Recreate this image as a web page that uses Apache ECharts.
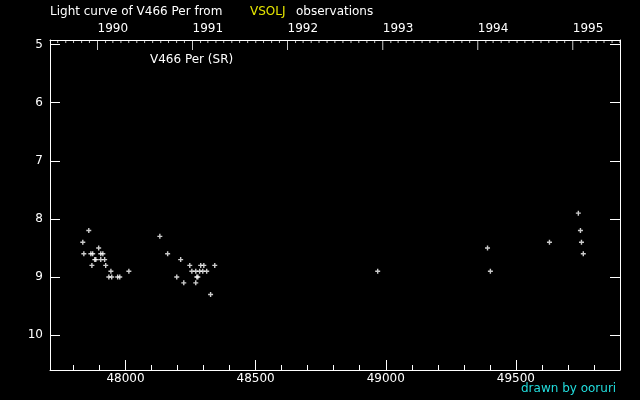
<!DOCTYPE html>
<html>
<head>
<meta charset="utf-8">
<script src="https://cdn.jsdelivr.net/npm/echarts@6/dist/echarts.min.js"></script>
<style>html,body{margin:0;padding:0;background:#000}#c{width:640px;height:400px}</style>
</head>
<body>
<div id="c"></div>
<script>
// Observation data (JD - 2400000, visual magnitude)
var jd = [47859,47836,47897,47840,47867,47874,47905,47913,47882,47886,47905,47920,47871,47924,47944,48013,47936,47947,47970,47978,
          48132,48162,48212,48247,48289,48301,48343,48255,48270,48285,48297,48312,48197,48274,48278,48224,48270,48327,
          48969,49391,49402,49629,49740,49748,49752,49759];
var mag = [8.2,8.4,8.5,8.6,8.6,8.6,8.6,8.6,8.7,8.7,8.7,8.7,8.8,8.8,8.9,8.9,9.0,9.0,9.0,9.0,
           8.3,8.6,8.7,8.8,8.8,8.8,8.8,8.9,8.9,8.9,8.9,8.9,9.0,9.0,9.0,9.1,9.1,9.3,
           8.9,8.5,8.9,8.4,7.9,8.2,8.4,8.6];
// Tick labels
var jdMajorTicks = [48000, 48500, 49000, 49500];
var magTicks = [5, 6, 7, 8, 9, 10];
var yearLabels = ['1990', '1991', '1992', '1993', '1994', '1995'];

var JD_MIN = 47710, JD_MAX = 49900, MAG_MIN = 4.92, MAG_MAX = 10.6;
function toJD(y, m) { return Date.UTC(y, m, 1) / 86400000 + 40587.5; }
var yearJD = yearLabels.map(function (y) { return toJD(+y, 0); });
var monthJD = [];
for (var y = 1989; y <= 1995; y++) for (var m = 0; m < 12; m++) {
  var v = toJD(y, m);
  if (v > JD_MIN && v < JD_MAX && m !== 0) monthJD.push(v);
}
var jdMinor = [];
for (var t = 47800; t < JD_MAX; t += 100) if (jdMajorTicks.indexOf(t) < 0) jdMinor.push(t);

var pts = jd.map(function (d, i) { return [d, mag[i]]; });
var font = 'DejaVu Sans';
function ls() { return { color: '#fff', width: 1 }; }
function rect() { return { left: 50, right: 20, top: 40, bottom: 30 }; }

function xAx(gi, pos, lineShow, tickLen, ticks, label) {
  return { type: 'value', gridIndex: gi, position: pos, min: JD_MIN, max: JD_MAX,
    axisLine: { show: lineShow, onZero: false, lineStyle: ls() },
    axisTick: ticks ? { show: true, inside: true, length: tickLen, lineStyle: ls(), customValues: ticks } : { show: false },
    axisLabel: label || { show: false },
    splitLine: { show: false } };
}
function yAx(gi, pos, label) {
  return { type: 'value', gridIndex: gi, position: pos, inverse: true, min: MAG_MIN, max: MAG_MAX,
    axisLine: { show: true, onZero: false, lineStyle: ls() },
    axisTick: { show: true, inside: true, length: 10, lineStyle: ls(), customValues: magTicks },
    axisLabel: label || { show: false },
    splitLine: { show: false } };
}
function yHidden(gi) {
  return { type: 'value', gridIndex: gi, min: 0, max: 1, show: false, splitLine: { show: false } };
}
// tick marks hanging from the top edge, placed through the x scale
function topTickSeries(values, len) {
  return { type: 'scatter', xAxisIndex: 0, yAxisIndex: 0, clip: false, silent: true, z: 1,
    data: values.map(function (v) { return [v, MAG_MIN]; }),
    symbol: 'rect', symbolSize: [1, len], symbolOffset: [0, len / 2],
    itemStyle: { color: '#fff' } };
}

var chart = echarts.init(document.getElementById('c'), null, { renderer: 'canvas' });
chart.setOption({
  backgroundColor: '#000',
  animation: false,
  grid: [rect(), rect(), rect()],
  xAxis: [
    xAx(0, 'bottom', true, 10, jdMajorTicks,
      { show: true, color: '#fff', fontFamily: font, fontSize: 12, margin: 3, customValues: jdMajorTicks,
        formatter: function (v) { return String(v); } }),
    xAx(1, 'bottom', false, 5, jdMinor),
    xAx(2, 'top', true, 0, null,
      { show: true, color: '#fff', fontFamily: font, fontSize: 12, margin: 5, align: 'left', customValues: yearJD,
        formatter: function (v) { var i = yearJD.indexOf(v); return i >= 0 ? yearLabels[i] : ''; } })
  ],
  yAxis: [
    yAx(0, 'left', { show: true, color: '#fff', fontFamily: font, fontSize: 12, margin: 7, customValues: magTicks }),
    yAx(1, 'right'),
    yHidden(2)
  ],
  series: [
    {
      type: 'scatter', xAxisIndex: 0, yAxisIndex: 0,
      data: pts,
      symbol: 'path://M1.8,0H3.2V1.8H5V3.2H3.2V5H1.8V3.2H0V1.8H1.8Z',
      symbolSize: 5,
      itemStyle: { color: '#fff' },
      silent: true
    },
    topTickSeries(yearJD, 10),
    topTickSeries(monthJD, 3)
  ],
  graphic: [
    { type: 'text', left: 50, top: 6, style: { text: 'Light curve of V466 Per from', fill: '#fff', font: '12px "DejaVu Sans"' } },
    { type: 'text', left: 250, top: 6, style: { text: 'VSOLJ', fill: '#e6e600', font: '12px "DejaVu Sans"' } },
    { type: 'text', left: 296, top: 6, style: { text: 'observations', fill: '#fff', font: '12px "DejaVu Sans"' } },
    { type: 'text', left: 150, top: 54, style: { text: 'V466 Per (SR)', fill: '#fff', font: '12px "DejaVu Sans"' } },
    { type: 'text', left: 521, top: 383, style: { text: 'drawn by ooruri', fill: '#22dddd', font: '12px "DejaVu Sans"' } }
  ]
});
</script>
</body>
</html>
